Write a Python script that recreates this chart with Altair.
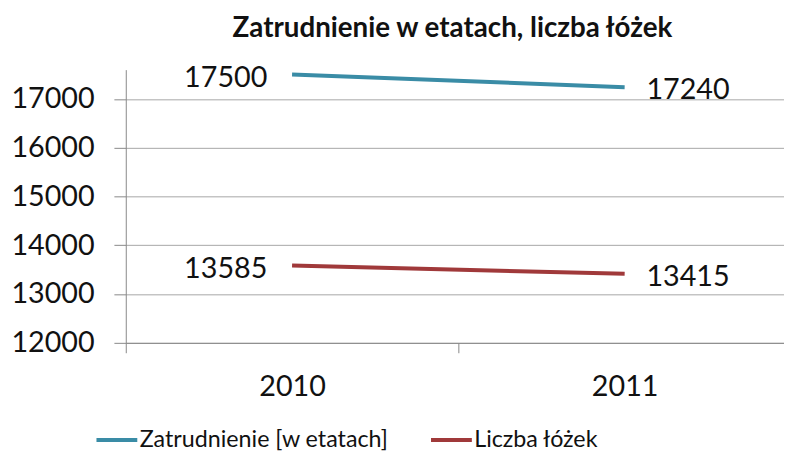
import altair as alt
import pandas as pd

years = ["2010", "2011"]
zatrudnienie = [17500, 17240]
lozka = [13585, 13415]
series_names = ["Zatrudnienie [w etatach]", "Liczba łóżek"]
colors = ["#3A8CA6", "#A0393A"]

rows = []
for y, v in zip(years, zatrudnienie):
    rows.append({"rok": y, "wartosc": v, "seria": series_names[0]})
for y, v in zip(years, lozka):
    rows.append({"rok": y, "wartosc": v, "seria": series_names[1]})
df = pd.DataFrame(rows)

FONT = "Lato"

x = alt.X("rok:N", title=None, scale=alt.Scale(type="band", paddingInner=0, paddingOuter=0),
          axis=alt.Axis(labelAngle=0, labelFontSize=29, labelColor="#111", labelPadding=20,
                        tickBand="extent", tickSize=10, tickColor="#888", domainColor="#888",
                        labelFont=FONT))
y = alt.Y("wartosc:Q", title=None,
          scale=alt.Scale(domain=[12000, 17600], nice=False, zero=False),
          axis=alt.Axis(values=[12000, 13000, 14000, 15000, 16000, 17000], labelFontSize=29,
                        labelColor="#111", labelFont=FONT, tickSize=12, tickColor="#888",
                        domainColor="#888", gridColor="#A6A6A6", labelPadding=20, format="d"))

color = alt.Color("seria:N", sort=series_names,
                  scale=alt.Scale(domain=series_names, range=colors),
                  legend=alt.Legend(title=None, orient="none", legendX=-32, legendY=351,
                                    direction="horizontal", symbolType="stroke",
                                    symbolSize=1700, symbolStrokeWidth=4, labelFontSize=23.5,
                                    labelFont=FONT, labelColor="#111", columnPadding=34,
                                    symbolOffset=0, labelOffset=0, labelLimit=0))

lines = alt.Chart(df).mark_line(strokeWidth=4).encode(x=x, y=y, color=color)

left_labels = alt.Chart(df[df["rok"] == "2010"]).mark_text(
    align="right", baseline="middle", dx=-25, dy=4, fontSize=29, font=FONT, color="#111"
).encode(x=alt.X("rok:N"), y=alt.Y("wartosc:Q"), text=alt.Text("wartosc:Q", format="d"))

right_labels = alt.Chart(df[df["rok"] == "2011"]).mark_text(
    align="left", baseline="middle", dx=22, dy=3, fontSize=29, font=FONT, color="#111"
).encode(x=alt.X("rok:N"), y=alt.Y("wartosc:Q"), text=alt.Text("wartosc:Q", format="d"))

chart = alt.layer(lines, left_labels, right_labels).properties(
    width=672, height=276,
    title=alt.TitleParams("Zatrudnienie w etatach, liczba łóżek", font=FONT, fontSize=28,
                          fontWeight="bold", color="#111", anchor="middle", dx=-6, offset=22),
    autosize=alt.AutoSizeParams(type="none"),
    padding={"left": 119, "top": 60, "right": -7, "bottom": 108},
).configure_view(stroke=None).configure_axisX(grid=False)

chart.save("out.html", embed_options={"renderer": "svg", "actions": False})
